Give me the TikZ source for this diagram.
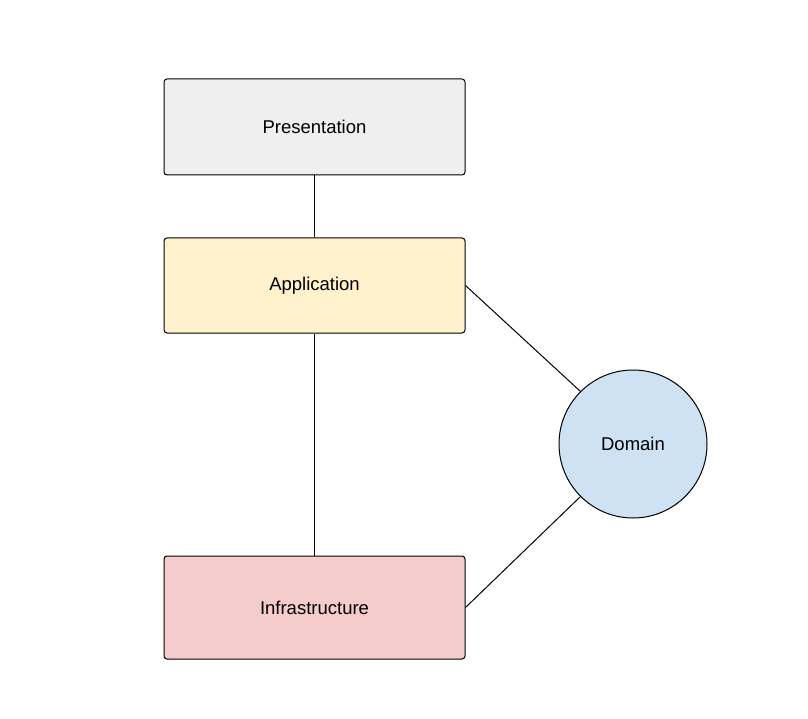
\documentclass[tikz,border=0pt]{standalone}
\usepackage{fontspec}
\setmainfont{Liberation Sans}
\usepackage{tikz}
\usetikzlibrary{positioning}
\definecolor{layergray}{HTML}{EFEFEF}
\definecolor{layeryellow}{HTML}{FFF2CC}
\definecolor{layerred}{HTML}{F4CCCC}
\definecolor{layerblue}{HTML}{CFE2F3}
\tikzset{
  layer/.style={rectangle, rounded corners=3pt, draw=black, line width=1pt, fill=layergray,
                minimum width=301pt, minimum height=95pt, align=center,
                font=\fontsize{18.5}{22}\selectfont, inner sep=0pt},
  layeryellowbox/.style={layer, fill=layeryellow},
  layerredbox/.style={layer, fill=layerred, minimum height=103pt},
  core/.style={circle, draw=black, line width=1pt, fill=layerblue, minimum size=148pt,
               inner sep=0pt, font=\fontsize{18.5}{22}\selectfont},
  link/.style={line width=1pt, black},
}
\begin{document}
\begin{tikzpicture}[x=1pt, y=-1pt, node distance=62pt]
\useasboundingbox (0,0) rectangle (808,719);
\node[layer, minimum height=96pt] (pres) at (314.5,127) {Presentation};
\node[layeryellowbox, below=of pres] (app) {Application};
\node[layerredbox, below=222pt of app] (infra) {Infrastructure};
\node[core] (dom) at (633,444) {Domain};
\draw[link] (pres) -- (app);
\draw[link] (app) -- (infra);
\draw[link] (app.east) -- (dom.135);
\draw[link] (infra.east) -- (dom.225);
\end{tikzpicture}
\end{document}
